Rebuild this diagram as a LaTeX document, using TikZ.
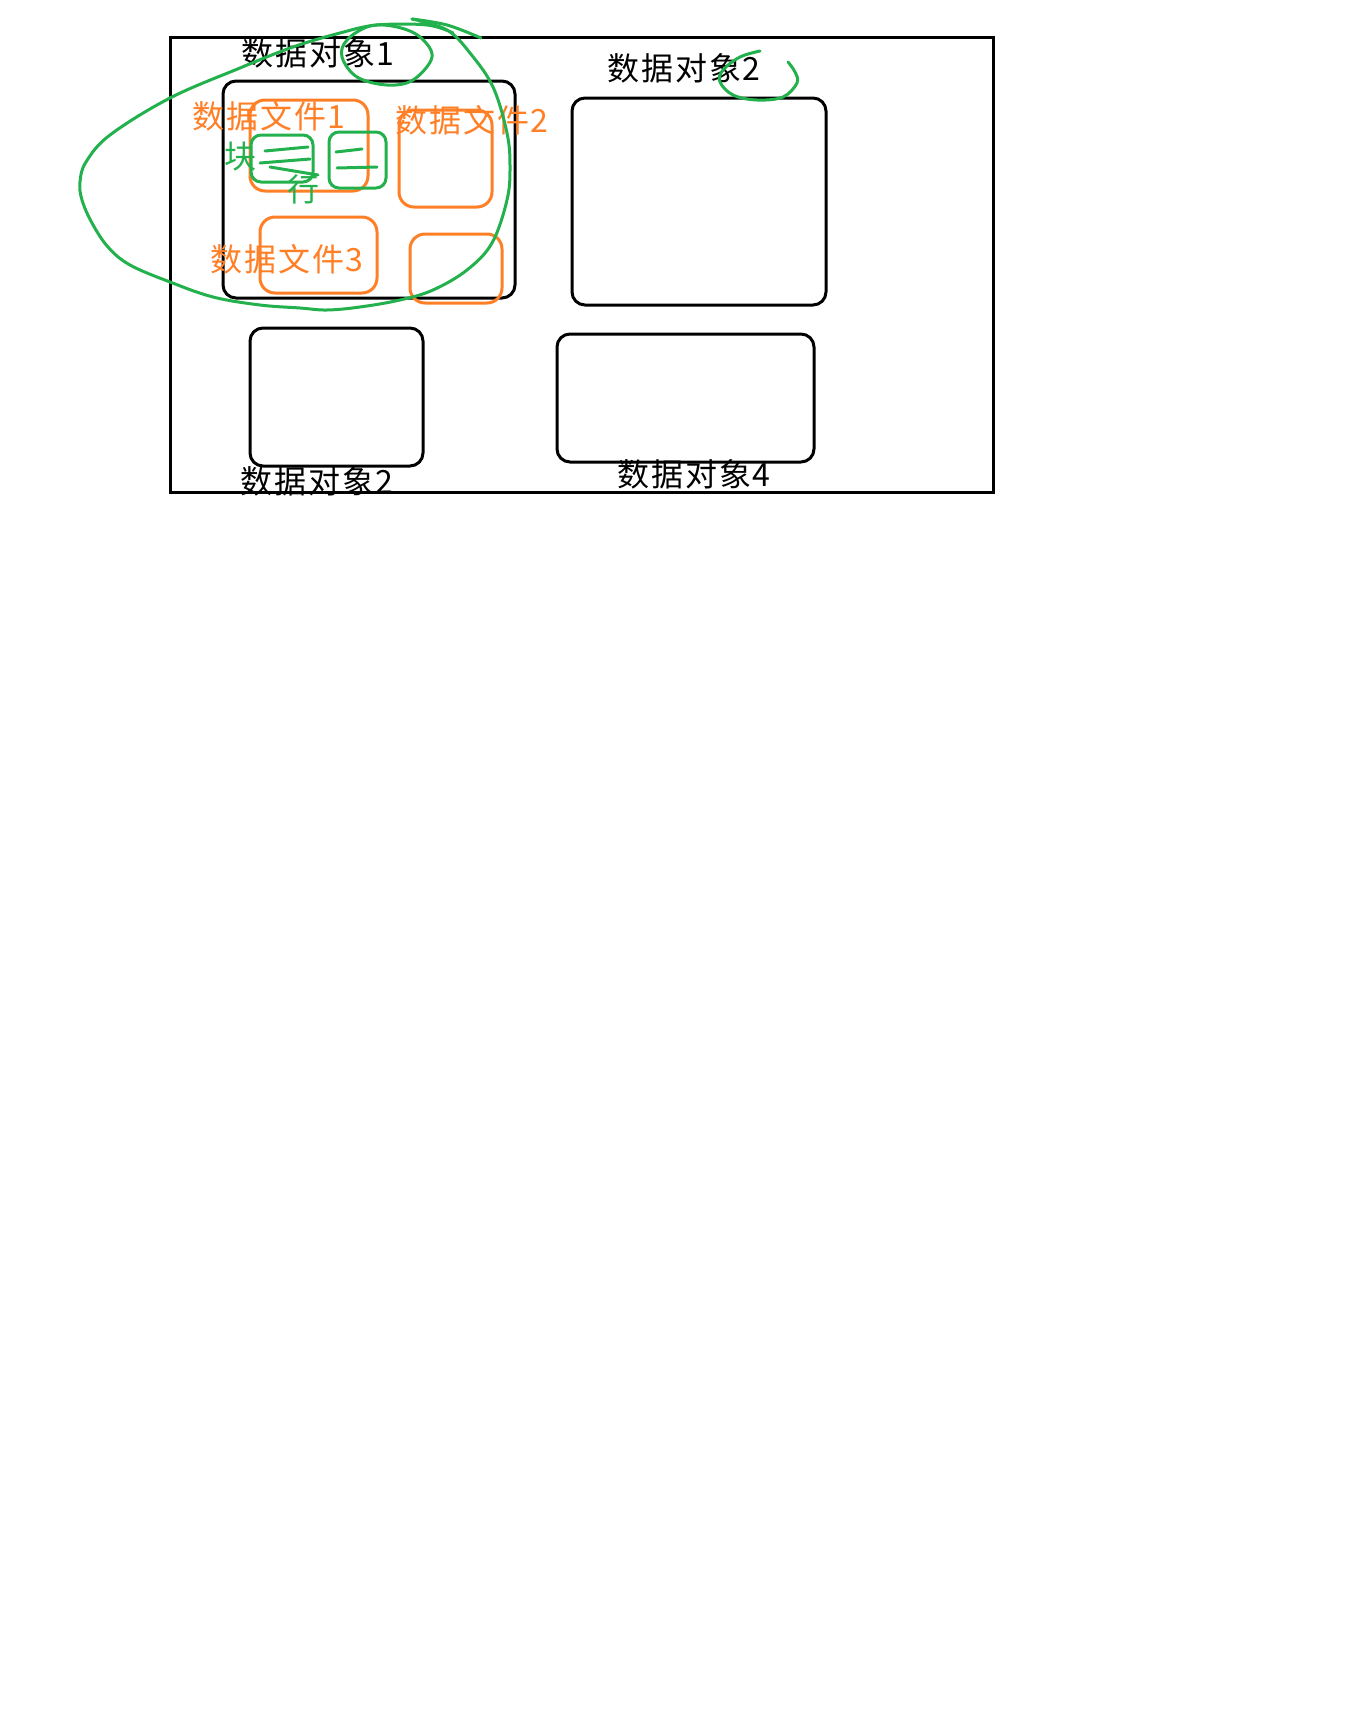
\documentclass[tikz,border=0pt]{standalone}
\usepackage{fontspec}
\newfontfamily\cjk[LetterSpace=6]{Noto Sans CJK SC}
\definecolor{penorange}{RGB}{255,127,39}
\definecolor{pengreen}{RGB}{34,177,76}
\tikzset{
  objbox/.style={rectangle, draw=black, line width=3pt, rounded corners=13pt, inner sep=0pt},
  filebox/.style={rectangle, draw=penorange, line width=3pt, rounded corners=15pt, inner sep=0pt},
  blkbox/.style={rectangle, draw=pengreen, line width=3pt, rounded corners=10pt, inner sep=0pt},
  lbl/.style={inner sep=0pt, font=\cjk\fontsize{32}{32}\selectfont},
  pen/.style={pengreen, line width=3pt, line cap=round, line join=round}
}
\begin{document}
\begin{tikzpicture}[x=1pt, y=-1pt]
\useasboundingbox (0,0) rectangle (1360,1732);

\draw [line width=3pt] (170,37) rectangle (993,492);

\draw (369,189.5) node (obj1) [objbox, minimum width=292pt, minimum height=217pt] {};
\draw (699,201.5) node (obj2) [objbox, minimum width=254pt, minimum height=207pt] {};
\draw (336.5,397) node (obj3) [objbox, minimum width=173pt, minimum height=138pt] {};
\draw (685.5,398) node (obj4) [objbox, minimum width=257pt, minimum height=128pt] {};

\draw (318,53) node (lobj1) [lbl] {数据对象1};
\draw (684,68) node (lobj2) [lbl] {数据对象2};
\draw (317,481) node (lobj3) [lbl] {数据对象2};
\draw (694,474) node (lobj4) [lbl] {数据对象4};

\draw (309,145.5) node (file1) [filebox, minimum width=118pt, minimum height=91pt] {};
\draw (445.5,158.5) node (file2) [filebox, minimum width=93pt, minimum height=97pt] {};
\draw (318.5,255) node (file3) [filebox, minimum width=117pt, minimum height=76pt] {};
\draw (456,268.5) node (file4) [filebox, minimum width=92pt, minimum height=69pt] {};

\draw (269,116) node (lfile1) [lbl, penorange] {数据文件1};
\draw (472,120) node (lfile2) [lbl, penorange] {数据文件2};
\draw (287,259) node (lfile3) [lbl, penorange] {数据文件3};

\draw (282,158.5) node (blk1) [blkbox, minimum width=62pt, minimum height=47pt] {};
\draw (357.5,160) node (blk2) [blkbox, minimum width=57pt, minimum height=56pt] {};

\draw (240,157) node (lblk) [lbl, pengreen] {块};
\draw (303,189) node (lrow) [lbl, pengreen] {行};

% rows inside the blocks
\draw [pen] (265,151) -- (308,147);
\draw [pen] (260,163) -- (310,159);
\draw [pen] (270,167) -- (318,175);
\draw [pen] (336,152) -- (362,149);
\draw [pen] (337,168) -- (377,167);

% freehand marks
\draw [pen] plot [smooth, tension=0.6] coordinates {(481,38) (447,25) (412,19)};
\draw [pen] plot [smooth, tension=0.6] coordinates {(412,19) (447,30) (470,53) (493,87) (507,133) (510,167) (507,200) (492,243) (467,270) (433,290) (400,300) (360,307) (327,310) (300,308) (260,305) (213,297) (170,282) (130,265) (108,247) (92,223) (82,200) (80,182) (86,162) (110,135) (170,98) (240,68) (293,47) (340,33) (377,25) (427,25) (453,33)};
\draw [pen] plot [smooth cycle, tension=0.6] coordinates {(342,57) (357,77) (387,85) (413,80) (432,57) (420,37) (397,27) (370,26) (347,40)};
\draw [pen] plot [smooth, tension=0.6] coordinates {(760,51) (740,57) (723,70) (720,82) (733,95) (757,100) (783,97) (797,83) (795,72) (788,62)};

\end{tikzpicture}
\end{document}
